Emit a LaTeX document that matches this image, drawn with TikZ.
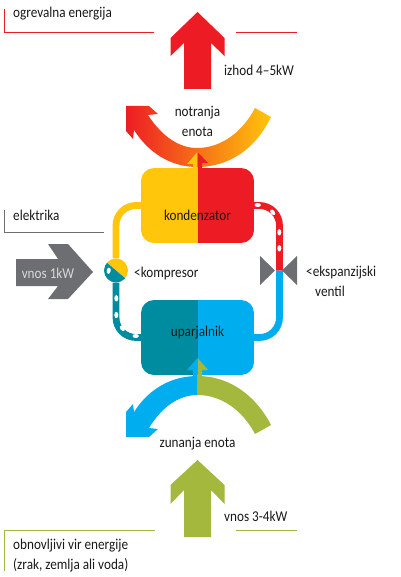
\documentclass[tikz,border=0pt]{standalone}
\usepackage{fontspec}
\setmainfont[FakeStretch=0.88]{Carlito}
\usetikzlibrary{calc}
\definecolor{heatyellow}{HTML}{FFC60B}
\definecolor{heatred}{HTML}{ED1C24}
\definecolor{coldteal}{HTML}{008CA0}
\definecolor{coldblue}{HTML}{00AEEF}
\definecolor{envgreen}{HTML}{A3B83C}
\definecolor{powergray}{HTML}{6D6E71}
\tikzset{
    label/.style={inner sep=0pt, font=\fontsize{15}{17}\selectfont, text=black!90},
    pipe/.style={line width=6.8pt},
    halfbox/.style 2 args={rounded corners=13pt, minimum width=113pt, minimum height=75pt, inner sep=0pt,
        path picture={
            \fill[#1, sharp corners] (path picture bounding box.south west) rectangle (path picture bounding box.north);
            \fill[#2, sharp corners] (path picture bounding box.south) rectangle (path picture bounding box.north east);}},
}
\begin{document}
\begin{tikzpicture}[x=1pt, y=-1pt, >=stealth]
    \useasboundingbox (0,0) rectangle (400,577);
    % heat side
    \fill[heatred] (197.5,12) -- (224.5,38) -- (224.5,56) -- (211,43) -- (211,89) -- (184,89) -- (184,43) -- (170.5,56) -- (170.5,38) -- cycle;
    \shade[left color=heatred, right color=heatyellow, shading angle=90] (126,106) -- (149,106) -- (158,114) -- (148,115) .. controls (161,135) and (178,148) .. (197,148) .. controls (222,148) and (243,131) .. (255,108) -- (271,117) .. controls (256,148) and (230,167) .. (197,167) .. controls (170,167) and (148,152) .. (134,130) -- (133,139) -- (126,131) -- cycle;
    % cold side
    \fill[envgreen] (197.5,460) -- (224.5,485) -- (224.5,504) -- (211,490) -- (211,537) -- (184,537) -- (184,490) -- (170.5,504) -- (170.5,485) -- cycle;
    \fill[envgreen] (197.5,376) .. controls (230,376) and (256,396) .. (271,425) -- (255,434) .. controls (243,411) and (222,395) .. (197.5,395) -- cycle;
    \fill[coldblue] (197.5,376) .. controls (170,376) and (148,390) .. (134,412) -- (133,404) -- (126,412) -- (126,437) -- (149,437) -- (158,429) -- (149,428) .. controls (161,408) and (178,395) .. (197.5,395) -- cycle;
    % boxes and pipes
    \node[halfbox={heatyellow}{heatred}] (kond) at (197.5,205.5) {};
    \node[halfbox={coldteal}{coldblue}] (upar) at (197.5,337.5) {};
    \coordinate (valve) at (279.5,270.5);
    \node[circle, minimum size=24pt, inner sep=0pt, path picture={
        \fill[heatyellow] ($(path picture bounding box.center)+(-20,-17)$) -- ($(path picture bounding box.center)+(20,17)$) -- ($(path picture bounding box.center)+(20,-30)$) -- cycle;
        \fill[coldteal] ($(path picture bounding box.center)+(-20,-17)$) -- ($(path picture bounding box.center)+(20,17)$) -- ($(path picture bounding box.center)+(-20,30)$) -- cycle;}] (komp) at (116,270.5) {};
    \draw[pipe, heatyellow, rounded corners=20pt] (kond.west) -| (komp.north);
    \draw[pipe, coldteal, rounded corners=20pt] (upar.west) -| (komp.south);
    \draw[pipe, heatred, rounded corners=20pt] (kond.east) -| (valve);
    \draw[pipe, coldblue, rounded corners=20pt] (upar.east) -| (valve);
    \fill[powergray] (260,256) -- (275,270.5) -- (260,285) -- cycle;
    \fill[powergray] (297,256) -- (282,270.5) -- (297,285) -- cycle;
    \foreach \x/\y/\a in {257.7/205/0, 272.7/212.3/-50, 279.3/232.3/90, 279.3/248.3/90, 116.3/298.3/90, 116.3/315/90, 122.3/328.3/-50, 135.7/336/0, 108.7/270.7/80}
        \fill[white, rotate around={\a:(\x,\y)}] (\x,\y) ellipse (3.2pt and 2pt);
    % small arrows
    \fill[heatyellow] (197.5,152) -- (197.5,168) -- (193,168) -- (193,164) -- (187,164) -- cycle;
    \fill[heatred] (197.5,152) -- (197.5,168) -- (202,168) -- (202,163) -- (208,163) -- cycle;
    \fill[coldblue] (197.5,358) -- (197.5,376) -- (193,376) -- (193,370) -- (187,370) -- cycle;
    \fill[envgreen] (197.5,358) -- (197.5,376) -- (202,376) -- (202,370) -- (208,370) -- cycle;
    % gray input arrow
    \fill[powergray] (16,259) -- (58,259) -- (48,244) -- (68,244) -- (93,272) -- (68,299) -- (48,299) -- (58,286) -- (16,286) -- cycle;
    % corner lines
    \draw[heatred, thick] (4,9) |- (154,32);
    \draw[heatred, thick] (236,32) -- (297,32);
    \draw[powergray, thick] (4,210) |- (104,232.5);
    \draw[envgreen, thick] (4,571) |- (155,530.5);
    \draw[envgreen, thick] (236,530.5) -- (297,530.5);
    % labels
    \node[label, anchor=west] (ogrev) at (13,14) {ogrevalna energija};
    \node[label, anchor=west] (izhod) at (224,70) {izhod 4–5kW};
    \node[label] (notr) at (197.5,113) {notranja};
    \node[label] (enota) at (197.5,132) {enota};
    \node[label] (kondtext) at (197.5,215.5) {kondenzator};
    \node[label] (upartext) at (197.5,333) {uparjalnik};
    \node[label, anchor=west] (elek) at (13,215) {elektrika};
    \node[label, text=white!85!black] (vnos) at (48,273) {vnos 1kW};
    \node[label, anchor=west] (kompt) at (134,273) {<kompresor};
    \node[label, anchor=west] (eksp) at (306,273) {<ekspanzijski};
    \node[label, anchor=west] (vent) at (315,291) {ventil};
    \node[label] (zun) at (197.5,444) {zunanja enota};
    \node[label, anchor=west] (vnos3) at (224,516) {vnos 3-4kW};
    \node[label, anchor=west] (obn) at (13,546) {obnovljivi vir energije};
    \node[label, anchor=west] (zrak) at (13,565) {(zrak, zemlja ali voda)};
\end{tikzpicture}
\end{document}
